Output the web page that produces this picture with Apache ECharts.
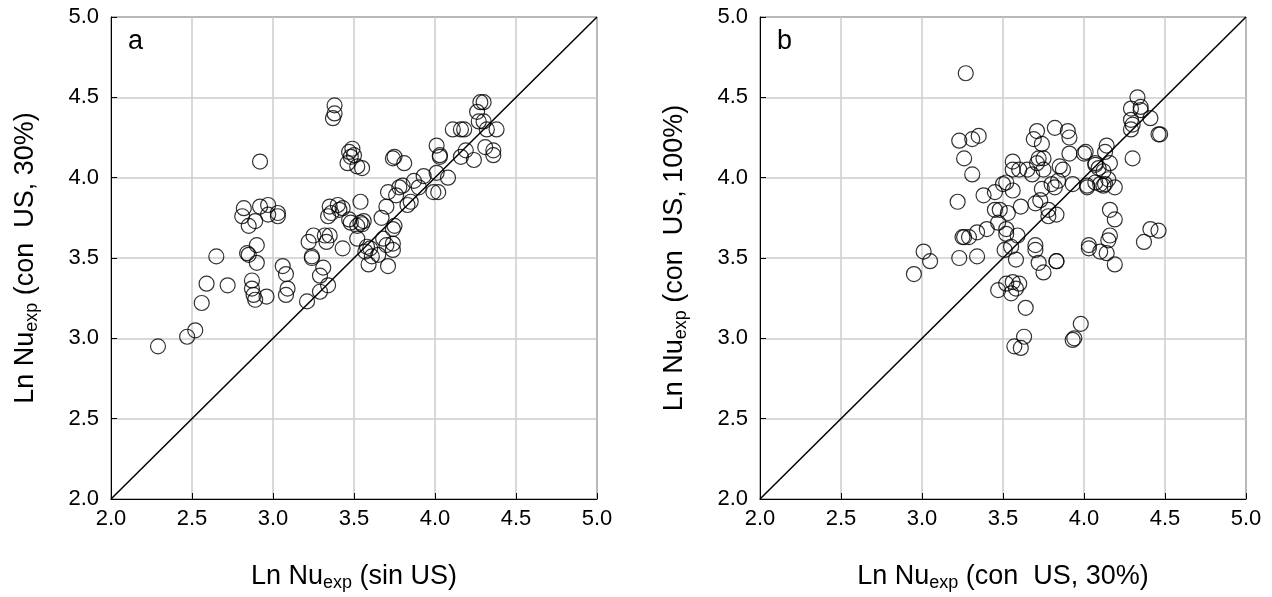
<!DOCTYPE html>
<html>
<head>
<meta charset="utf-8">
<script src="https://cdn.jsdelivr.net/npm/echarts@6/dist/echarts.min.js"></script>
<style>
html,body{margin:0;padding:0;background:#fff;}
#chart{width:1272px;height:597px;}
</style>
</head>
<body>
<div id="chart"></div>
<script>
// Panel a: x = Ln Nu_exp (sin US), y = Ln Nu_exp (con US, 30%)
const panelA = [
[2.29,2.95],[2.47,3.01],[2.52,3.05],[2.56,3.22],[2.59,3.34],[2.65,3.51],[2.72,3.33],
[2.82,3.81],[2.81,3.76],[2.85,3.70],[2.89,3.73],[2.92,3.82],[2.97,3.83],[2.97,3.77],[3.03,3.78],[3.03,3.76],
[2.92,4.10],
[2.90,3.58],[2.85,3.52],[2.84,3.53],[2.90,3.47],[2.87,3.36],[2.87,3.31],[2.88,3.27],[2.89,3.24],[2.96,3.26],
[3.06,3.45],[3.08,3.40],[3.09,3.31],[3.08,3.27],
[3.21,3.23],[3.24,3.50],[3.22,3.60],[3.25,3.64],[3.24,3.51],[3.32,3.64],[3.33,3.60],[3.29,3.39],[3.31,3.44],[3.29,3.29],[3.34,3.33],[3.43,3.56],[3.35,3.64],
[3.38,4.45],[3.38,4.40],[3.37,4.37],
[3.47,4.16],[3.49,4.18],[3.46,4.09],[3.52,4.07],[3.48,4.13],[3.50,4.14],[3.55,4.06],
[3.35,3.82],[3.40,3.83],[3.41,3.80],[3.34,3.76],[3.47,3.74],[3.36,3.78],[3.43,3.81],
[3.54,3.85],[3.54,3.72],[3.56,3.73],[3.55,3.71],[3.52,3.70],[3.48,3.72],[3.52,3.62],
[3.58,3.57],[3.60,3.56],[3.57,3.54],[3.61,3.51],[3.59,3.46],[3.65,3.52],[3.71,3.45],[3.68,3.62],[3.70,3.58],[3.74,3.55],[3.74,3.59],[3.67,3.75],[3.74,3.68],[3.75,3.70],[3.70,3.82],
[3.71,3.91],[3.76,3.89],[3.78,3.94],[3.80,3.95],[3.83,3.83],[3.85,3.85],[3.87,3.98],[3.90,3.94],[3.93,4.01],[3.99,3.91],[4.02,3.91],[4.08,4.00],
[3.75,4.13],[3.74,4.12],[3.81,4.09],
[4.01,4.20],[4.03,4.14],[4.03,4.13],[4.01,4.03],
[4.11,4.30],[4.16,4.30],[4.18,4.30],[4.16,4.13],[4.19,4.17],[4.24,4.11],[4.31,4.19],[4.36,4.17],[4.36,4.14],
[4.28,4.47],[4.30,4.47],[4.26,4.41],[4.27,4.35],[4.30,4.35],[4.32,4.30],[4.38,4.30]
];
// Panel b: x = Ln Nu_exp (con US, 30%), y = Ln Nu_exp (con US, 100%)
const panelB = [
[3.27,4.65],[3.23,4.23],[3.31,4.24],[3.35,4.26],[3.26,4.12],[3.31,4.02],[3.22,3.85],
[3.26,3.63],[3.29,3.63],[3.34,3.66],[3.40,3.68],[3.38,3.89],[3.45,3.91],[3.50,3.96],[3.52,3.97],[3.56,3.92],
[3.45,3.80],[3.48,3.80],[3.53,3.78],[3.47,3.72],[3.52,3.68],[3.52,3.65],[3.59,3.64],
[3.56,4.10],[3.56,4.05],[3.60,4.05],[3.65,4.05],[3.68,4.02],
[3.61,3.82],[3.70,3.84],[3.73,3.86],[3.78,3.80],[3.78,3.76],[3.83,3.77],
[3.69,4.24],[3.71,4.29],[3.74,4.21],[3.82,4.31],[3.90,4.29],[3.91,4.25],[3.91,4.15],[4.00,4.15],
[3.72,4.12],[3.75,4.12],[3.71,4.09],[3.75,4.05],[3.85,4.07],[3.87,4.05],
[3.74,3.93],[3.80,3.96],[3.82,3.94],[3.84,3.98],[3.93,3.96],[4.02,3.95],[4.07,4.09],[4.07,3.97],
[3.70,3.58],[4.03,3.58],[3.01,3.54],[3.05,3.48],[2.95,3.40],[3.23,3.50],[3.34,3.51],[3.25,3.63],
[3.51,3.55],[3.55,3.57],[3.58,3.49],[3.70,3.55],[3.72,3.47],[3.75,3.41],[3.83,3.48],[3.83,3.48],
[3.47,3.30],[3.52,3.34],[3.56,3.35],[3.60,3.34],[3.55,3.28],[3.58,3.31],[3.64,3.19],[3.63,3.01],[3.57,2.95],[3.61,2.94],
[3.98,3.09],[3.94,3.00],[3.93,2.99],
[4.10,3.54],
[4.33,4.50],[4.29,4.43],[4.35,4.44],[4.35,4.42],[4.41,4.37],[4.29,4.36],[4.30,4.33],[4.29,4.30],[4.46,4.27],[4.47,4.27],
[4.14,4.20],[4.13,4.16],[4.01,4.16],[4.30,4.12],[4.16,4.09],[4.07,4.08],[4.09,4.06],[4.12,4.04],[4.15,3.99],[4.02,3.94],[4.10,3.96],[4.13,3.96],[4.12,3.95],[4.19,3.94],
[4.16,3.80],[4.19,3.74],[4.16,3.64],[4.15,3.61],[4.03,3.56],[4.14,3.53],[4.19,3.46],[4.41,3.68],[4.46,3.67],[4.37,3.60]
];
const diagonal = [[2,2],[5,5]];
const axisMin = 2.0, axisMax = 5.0, axisStep = 0.5;
const panelLetters = ['a','b'];
const xNames = [['Ln Nu','exp',' (sin US)'],['Ln Nu','exp',' (con  US, 30%)']];
const yNames = [['Ln Nu','exp',' (con  US, 30%)'],['Ln Nu','exp',' (con  US, 100%)']];

const FONT = '"Liberation Sans", Arial, Helvetica, sans-serif';
const chart = echarts.init(document.getElementById('chart'), null, {renderer:'canvas'});

function richName(parts){ return '{n|' + parts[0] + '}{s|' + parts[1] + '}{n|' + parts[2] + '}'; }
const nameRich = {
  n:{fontSize:27, fontFamily:FONT, color:'#000'},
  s:{fontSize:18, fontFamily:FONT, color:'#000', padding:[13,0,0,0]}
};
function makeAxis(idx, isX, names){
  return {
    type:'value', gridIndex:idx, min:axisMin, max:axisMax, interval:axisStep,
    axisLine:{show:true, lineStyle:{color:'#000', width:1}},
    axisTick:{show:true, inside:true, length:6, lineStyle:{color:'#000'}},
    axisLabel:{fontSize:22, fontFamily:FONT, color:'#000', margin: isX?9:12,
      formatter:function(v){return v.toFixed(1);}},
    splitLine:{show:true, lineStyle:{color:'#cccccc', width:1.5}},
    name: richName(names[idx]), nameLocation:'middle',
    nameGap: isX?62:70,
    nameTextStyle:{rich:nameRich, fontFamily:FONT}
  };
}
const lefts = [111, 760];
const option = {
  backgroundColor:'#fff',
  animation:false,
  grid: lefts.map(l=>({left:l, top:17, width:486, height:484, show:true, borderColor:'#000', borderWidth:1, backgroundColor:'transparent', containLabel:false})),
  xAxis:[makeAxis(0,true,xNames), makeAxis(1,true,xNames)],
  yAxis:[makeAxis(0,false,yNames), makeAxis(1,false,yNames)],
  graphic: panelLetters.map((t,i)=>({type:'text', left:lefts[i]+17, top:28, style:{text:t, fontSize:27, fontFamily:FONT, fill:'#000'}})),
  series:[
    {type:'line', xAxisIndex:0, yAxisIndex:0, data:diagonal, symbol:'none', lineStyle:{color:'#000', width:1.5}, z:1},
    {type:'line', xAxisIndex:1, yAxisIndex:1, data:diagonal, symbol:'none', lineStyle:{color:'#000', width:1.5}, z:1},
    {type:'scatter', xAxisIndex:0, yAxisIndex:0, data:panelA, symbol:'circle', symbolSize:15,
      itemStyle:{color:'rgba(0,0,0,0)', borderColor:'#000', borderWidth:1.2}, z:2},
    {type:'scatter', xAxisIndex:1, yAxisIndex:1, data:panelB, symbol:'circle', symbolSize:15,
      itemStyle:{color:'rgba(0,0,0,0)', borderColor:'#000', borderWidth:1.2}, z:2}
  ]
};
chart.setOption(option);
</script>
</body>
</html>
